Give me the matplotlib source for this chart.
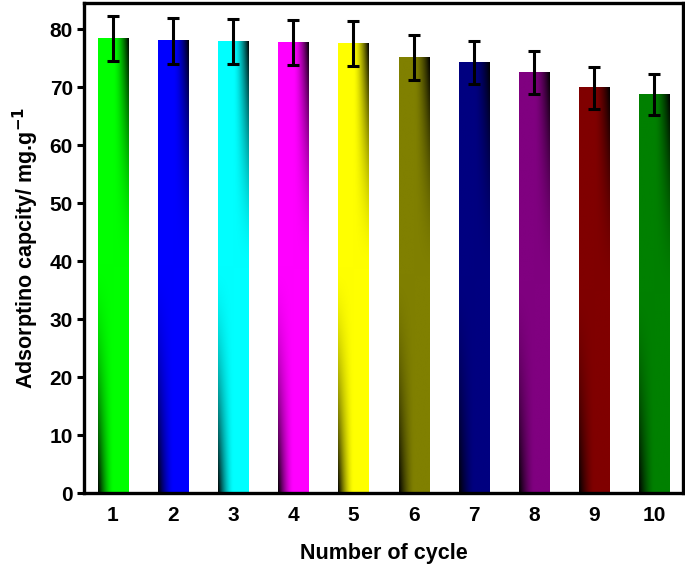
import numpy as np
import matplotlib
matplotlib.use("Agg")
import matplotlib.pyplot as plt
from matplotlib.colors import to_rgb

plt.rcParams['font.family'] = ['Liberation Sans', 'DejaVu Sans']
plt.rcParams['font.weight'] = 'bold'
plt.rcParams['mathtext.default'] = 'bf'

cycles = [1, 2, 3, 4, 5, 6, 7, 8, 9, 10]
capacity = [78.4, 78.0, 77.9, 77.7, 77.5, 75.1, 74.3, 72.6, 69.9, 68.7]
errors = [3.95, 3.95, 3.9, 3.9, 3.9, 3.85, 3.75, 3.7, 3.6, 3.5]
colors = ['#00FF00', '#0000FF', '#00FFFF', '#FF00FF', '#FFFF00',
          '#808000', '#000080', '#800080', '#800000', '#008000']

fig = plt.figure(figsize=(6.85, 5.67), dpi=100)
ax = fig.add_axes([0.1226, 0.1305, 0.8745, 0.864])

width = 0.5
nx, ny = 60, 200
u = np.linspace(0, 1, nx)[None, :]
v = np.linspace(1, 0, ny)[:, None]
dark = np.clip(4 * (u - 0.5) * (v - 0.5), 0, 1) ** 1.6
for x, h, c in zip(cycles, capacity, colors):
    rgb = np.array(to_rgb(c))
    img = rgb[None, None, :] * (1 - dark[:, :, None])
    ax.imshow(img, extent=(x - width / 2, x + width / 2, 0, h), aspect='auto',
              interpolation='bilinear', zorder=2)

ax.errorbar(cycles, capacity, yerr=errors, fmt='none', ecolor='black',
            elinewidth=2.2, capsize=4, capthick=2.2, zorder=3)

ax.set_xlim(0.52, 10.48)
ax.set_ylim(0, 84.5)
ax.set_xticks(cycles)
ax.set_yticks(np.arange(0, 81, 10))
for s in ax.spines.values():
    s.set_linewidth(2.4)
    s.set_zorder(5)
ax.tick_params(axis='x', direction='in', length=5, width=2.2, labelsize=15, pad=9)
ax.tick_params(axis='y', direction='out', length=5, width=2.2, labelsize=15, pad=3)
for lab in ax.get_xticklabels() + ax.get_yticklabels():
    lab.set_fontweight('bold')

ax.set_xlabel('Number of cycle', fontsize=15.5, fontweight='bold', labelpad=13)
ax.set_ylabel('Adsorptino capcity/ mg.g$^{-1}$', fontsize=15.5, fontweight='bold', labelpad=6)

fig.savefig('out.png', dpi=100)
